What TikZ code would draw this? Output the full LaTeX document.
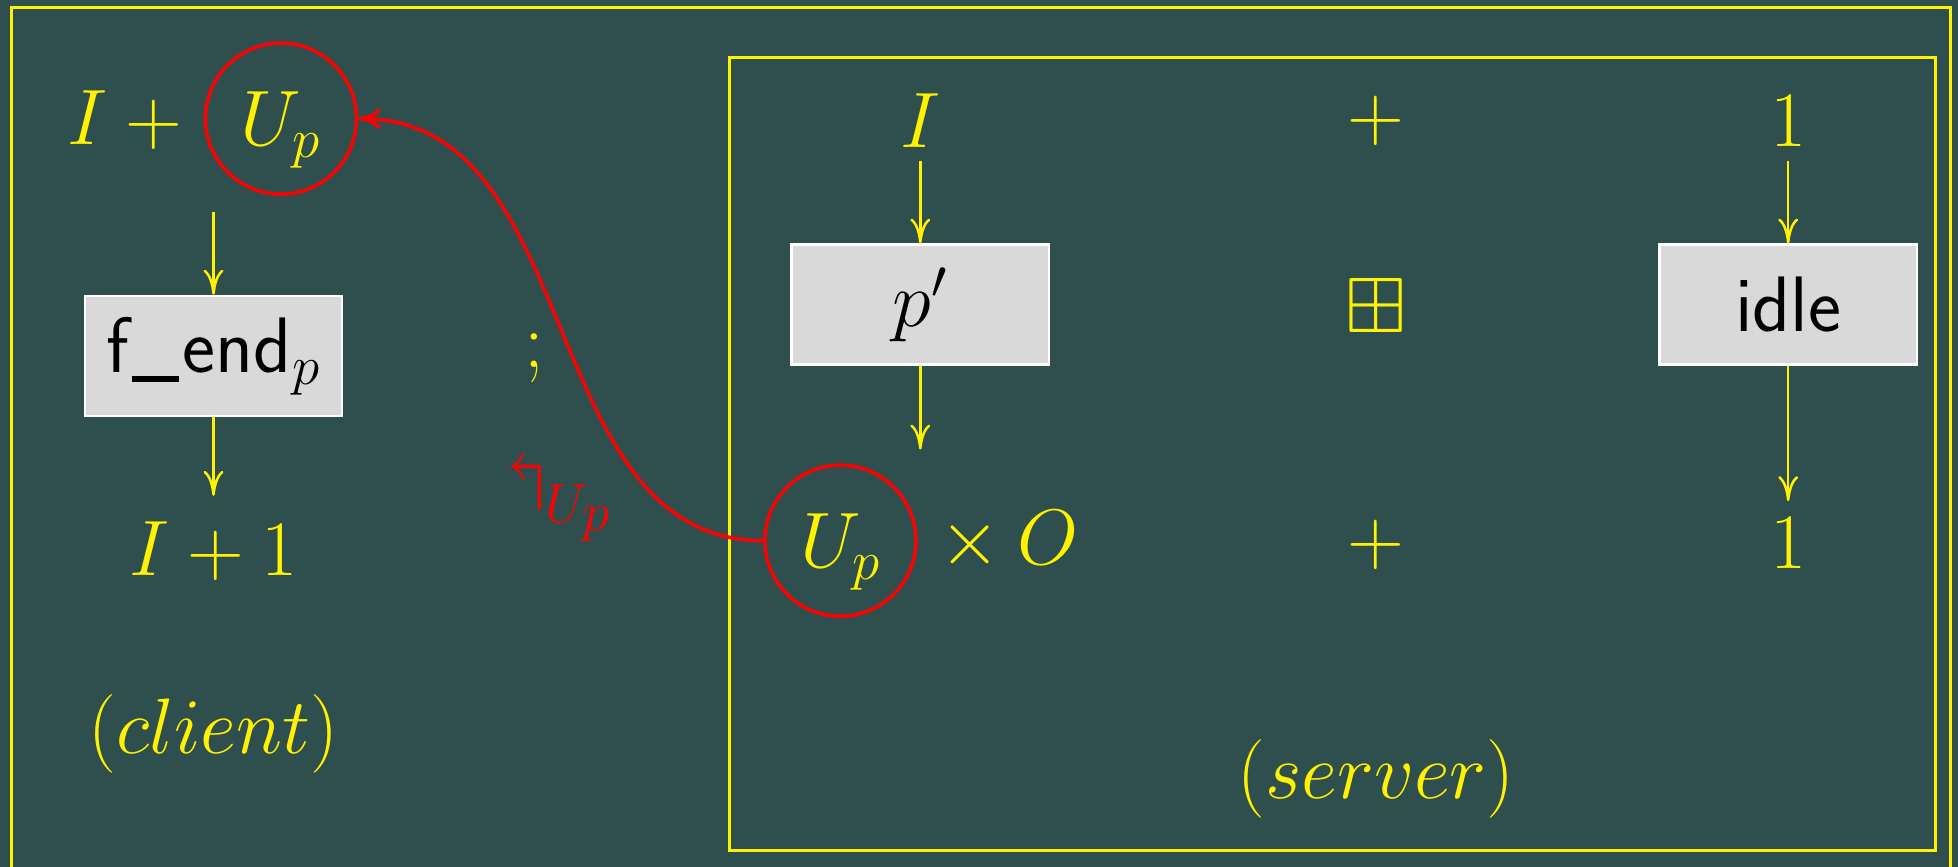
\RequirePackage{fix-cm}
\documentclass[tikz,border=0pt]{standalone}
\usepackage{amssymb}
\usetikzlibrary{arrows.meta}
\definecolor{bg}{RGB}{47,79,79}
\newcommand{\uscore}{\kern1pt\rule[-4pt]{19pt}{2.4pt}\kern1.5pt}
\begin{document}
\begin{tikzpicture}[x=0.5pt,y=-0.5pt,
  every node/.style={font=\fontsize{31.5}{37}\selectfont},
  txt/.style={text=yellow, inner sep=0pt},
  box/.style={draw=white, line width=1pt, fill=gray!30, minimum width=103pt,
    minimum height=48pt, inner sep=0pt, text=black,
    font=\fontsize{31.5}{37}\selectfont\sffamily},
  ring/.style={circle, draw=red, line width=1.4pt, minimum size=60.5pt,
    inner sep=0pt, text=yellow, text depth=0pt},
  flow/.style={draw=yellow, line width=1pt, -{To[length=10pt,width=8pt]}},
  back/.style={draw=red, line width=1.4pt, -{To[length=9pt,width=8.5pt]}},
  frame/.style={draw=yellow, line width=1.2pt}]
\fill[bg] (0,0) rectangle (1568,694);
\useasboundingbox (0,0) rectangle (1568,694);
% frames
\draw[frame] (9,694) -- (9,6) -- (1562,6) -- (1562,694);
\draw[frame] (584,46) rectangle (1550,681);
% client
\node[ring] (c1) at (225,95) {$U_p$};
\node[txt, anchor=base east] (ip) at (160,116) {$I+{}$};
\coordinate (a1) at (171,170);
\node[box] (fend) at (171,285) {f\uscore end$_p$};
\node[txt] (i1) at (171,441) {$I+1$};
\node[txt] (client) at (171,588) {$(client)$};
\draw[flow] (a1) -- (fend.north);
\draw[flow, shorten >=10pt] (fend.south) -- (i1.north);
% middle
\node[txt] (semi) at (428,287) {$;$};
\node[txt, text=red, anchor=base west] (lbl) at (405,409) {$\Lsh_{U_{\scriptstyle p}}$};
% server
\node[txt] (sI) at (737,97) {$I$};
\node[txt] (sp1) at (1102,97) {$+$};
\node[txt] (s1) at (1432,97) {$1$};
\node[box] (pp) at (737,244) {$p'$};
\node[txt] (bp) at (1102,245) {$\boxplus$};
\node[box] (idle) at (1432,244) {idle};
\node[ring] (c2) at (673,433) {$U_p$};
\node[txt] (xo) at (808,433) {$\times\mskip\medmuskip O$};
\node[txt] (sp2) at (1102,436) {$+$};
\node[txt] (s2) at (1432,435) {$1$};
\node[txt] (server) at (1102,624) {$(server)$};
\coordinate (a3) at (737,360);
\draw[flow, shorten <=5pt] (sI.south) -- (pp.north);
\draw[flow] (pp.south) -- (a3);
\draw[flow, shorten <=5.5pt] (s1.south) -- (idle.north);
\draw[flow, shorten >=6.5pt] (idle.south) -- (s2.north);
% back arrow
\draw[back] (c2.west) to[out=180,in=0] (c1.east);
\end{tikzpicture}
\end{document}
